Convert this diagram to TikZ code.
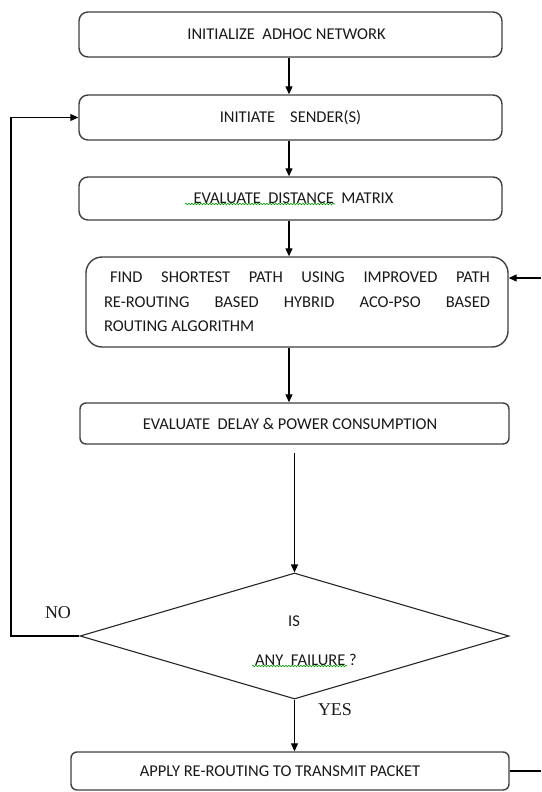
\documentclass[tikz,border=0pt]{standalone}
\usepackage{fontspec}
\setmainfont{Carlito}
\newfontfamily\labelfont{Liberation Serif}
\usetikzlibrary{arrows.meta,shapes.geometric,decorations.pathmorphing}
\tikzset{
  boxbase/.style={draw=black!75, line width=1.4pt, fill=white, inner sep=0pt,
    font=\fontsize{16.5}{24.5}\selectfont, text=black!90},
  procbox/.style={boxbase, rounded corners=9pt, minimum height=45pt},
  bigbox/.style={boxbase, rounded corners=16pt, text width=386pt, align=justify,
    minimum width=422pt, minimum height=90pt, inner xsep=18pt},
  flatbox/.style={boxbase, rounded corners=6pt},
  decide/.style={draw=black!85, line width=1.1pt, shape=diamond, inner sep=0pt,
    minimum width=429pt, minimum height=126pt},
  conn/.style={draw=black, line width=1.1pt},
  arr/.style={conn, -{Triangle[length=8pt,width=7pt]}},
  yn/.style={font=\labelfont\fontsize{18}{20}\selectfont, text=black!90},
  dtext/.style={font=\fontsize{16.5}{20}\selectfont, text=black!90},
  spell/.style={draw=green!60!black, line width=0.6pt,
    decorate, decoration={snake, amplitude=0.8pt, segment length=3pt}}
}
\begin{document}
\begin{tikzpicture}[x=1pt,y=-1pt]
\useasboundingbox (0,0) rectangle (541,792);
\coordinate (axisA) at (289,0);
\coordinate (loopx) at (11,0);
\coordinate (redge) at (541,0);
\coordinate (r4) at (541,278);

\node[procbox, minimum width=423pt] (box1) at (290.5,34.5) {\hspace*{-8pt}INITIALIZE\ \ ADHOC NETWORK};
\node[procbox, minimum width=423pt] (box2) at (290.5,117.5) {INITIATE\ \ \ \ SENDER(S)};
\node[procbox, minimum width=423pt, minimum height=43pt] (box3) at (290.5,198.5) {\hspace*{6pt}EVALUATE\ \ DISTANCE\ \ MATRIX};
\node[bigbox] (box4) at (297,302) {\hspace*{6pt}FIND SHORTEST PATH USING IMPROVED PATH\linebreak RE-ROUTING BASED HYBRID ACO-PSO BASED\linebreak ROUTING ALGORITHM};
\node[flatbox, minimum width=429pt, minimum height=41pt] (box5) at (294.5,423.5) {\hspace*{-9pt}EVALUATE\ \ DELAY \& POWER CONSUMPTION};
\node[decide] (dia) at (294.5,636) {};
\node[dtext] (is) at (294,621) {IS};
\node[dtext] (any) at (306,660) {ANY\ \ FAILURE ?};
\node[flatbox, minimum width=438pt, minimum height=38pt] (box6) at (290,771) {\hspace*{-20pt}APPLY RE-ROUTING TO TRANSMIT PACKET};
\node[yn] (no) at (58,613) {NO};
\node[yn] (yes) at (335,710) {YES};

% spell-check underlines
\coordinate (s1a) at (185,204); \coordinate (s1b) at (335,204);
\path[spell] (s1a) -- (s1b);
\coordinate (s2a) at (252,666); \coordinate (s2b) at (347,666);
\path[spell] (s2a) -- (s2b);

% connectors
\draw[arr] (box1.south -| axisA) -- (box2.north -| axisA);
\draw[arr] (box2.south -| axisA) -- (box3.north -| axisA);
\draw[arr] (box3.south -| axisA) -- (box4.north -| axisA);
\draw[arr] (box4.south -| axisA) -- (box5.north -| axisA);
\coordinate (b5s) at ([yshift=-8pt]box5.south);
\draw[arr] (b5s -| dia.north) -- (dia.north);
\draw[arr] (dia.south) -- (dia.south |- box6.north);
\draw[arr] (dia.west) -- (dia.west -| loopx) |- (box2.west);
\draw[arr] (r4) -- (r4 -| box4.east);
\draw[conn] (box6.east) -- (box6.east -| redge);
\end{tikzpicture}
\end{document}
